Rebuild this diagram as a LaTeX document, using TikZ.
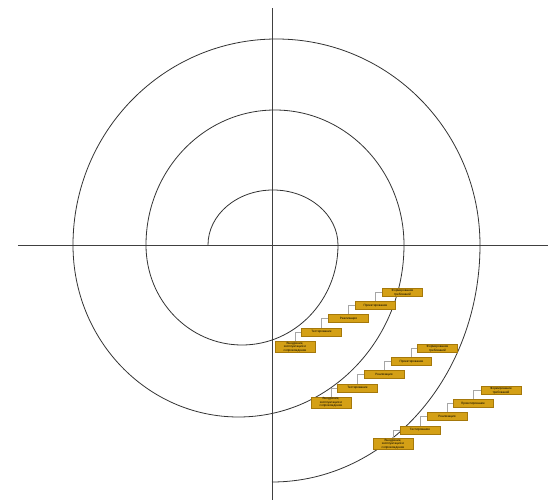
\documentclass[tikz,border=0pt]{standalone}
\usepackage{fontspec}
\setmainfont{Liberation Sans}
\usetikzlibrary{positioning}
\definecolor{stagefill}{RGB}{212,160,22}
\definecolor{stageline}{RGB}{165,120,10}

\begin{document}
\begin{tikzpicture}[
    x=1pt, y=1pt,
    stage/.style={draw=stageline, fill=stagefill, minimum width=40pt,
                  minimum height=8pt, inner sep=0.6pt, align=center,
                  font=\fontsize{3.1}{3.5}\selectfont},
    link/.style={draw=gray!70, line width=0.4pt},
    axis/.style={draw=black!75, line width=0.8pt},
    spiral/.style={draw=black!80, line width=0.8pt},
    node distance=4.5pt
]
    \useasboundingbox (-272,-259) rectangle (286,245);

    % axes
    \coordinate (west)  at (-254,0);
    \coordinate (east)  at (276,0);
    \coordinate (north) at (0,237);
    \coordinate (south) at (0,-255);
    \draw[axis] (west) -- (east);
    \draw[axis] (north) -- (south);

    % spiral made of half arcs
    \draw[spiral] (-64,0)
        arc[start angle=180, end angle=0,    x radius=65,    y radius=55]
        arc[start angle=0,   end angle=-180, x radius=96,    y radius=100]
        arc[start angle=180, end angle=0,    x radius=129,   y radius=135]
        arc[start angle=0,   end angle=-180, x radius=165.5, y radius=172]
        arc[start angle=180, end angle=0,    x radius=203.5, y radius=206]
        arc[start angle=0,   end angle=-90,  x radius=208,   y radius=237];

    % first cascade
    \node[stage] (req1) at (130.5,-47.5) {Формирование\\требований};
    \node[stage, below=4.5pt of req1, xshift=-27pt] (des1) {Проектирование};
    \node[stage, below=4.5pt of des1, xshift=-27pt] (imp1) {Реализация};
    \node[stage, below=5.5pt of imp1, xshift=-27pt] (tst1) {Тестирование};
    \node[stage, below=5pt of tst1, xshift=-26.5pt] (ops1) {Внедрение,\\эксплуатация и\\сопровождение};

    % second cascade
    \node[stage] (req2) at (165.5,-103.5) {Формирование\\требований};
    \node[stage, below=4.5pt of req2, xshift=-26pt] (des2) {Проектирование};
    \node[stage, below=4.5pt of des2, xshift=-27.5pt] (imp2) {Реализация};
    \node[stage, below=5pt of imp2, xshift=-26.5pt] (tst2) {Тестирование};
    \node[stage, below=5pt of tst2, xshift=-26.5pt] (ops2) {Внедрение,\\эксплуатация и\\сопровождение};

    % third cascade
    \node[stage] (req3) at (229,-145.5) {Формирование\\требований};
    \node[stage, below=4.5pt of req3, xshift=-28pt] (des3) {Проектирование};
    \node[stage, below=4.5pt of des3, xshift=-26pt] (imp3) {Реализация};
    \node[stage, below=5pt of imp3, xshift=-27pt] (tst3) {Тестирование};
    \node[stage, below=4.5pt of tst3, xshift=-27pt] (ops3) {Внедрение,\\эксплуатация и\\сопровождение};

    \foreach \c in {1,2,3} {
        \draw[link] (req\c.west) -| (des\c.north);
        \draw[link] (des\c.west) -| (imp\c.north);
        \draw[link] (imp\c.west) -| (tst\c.north);
        \draw[link] (tst\c.west) -| (ops\c.north);
    }
\end{tikzpicture}
\end{document}
